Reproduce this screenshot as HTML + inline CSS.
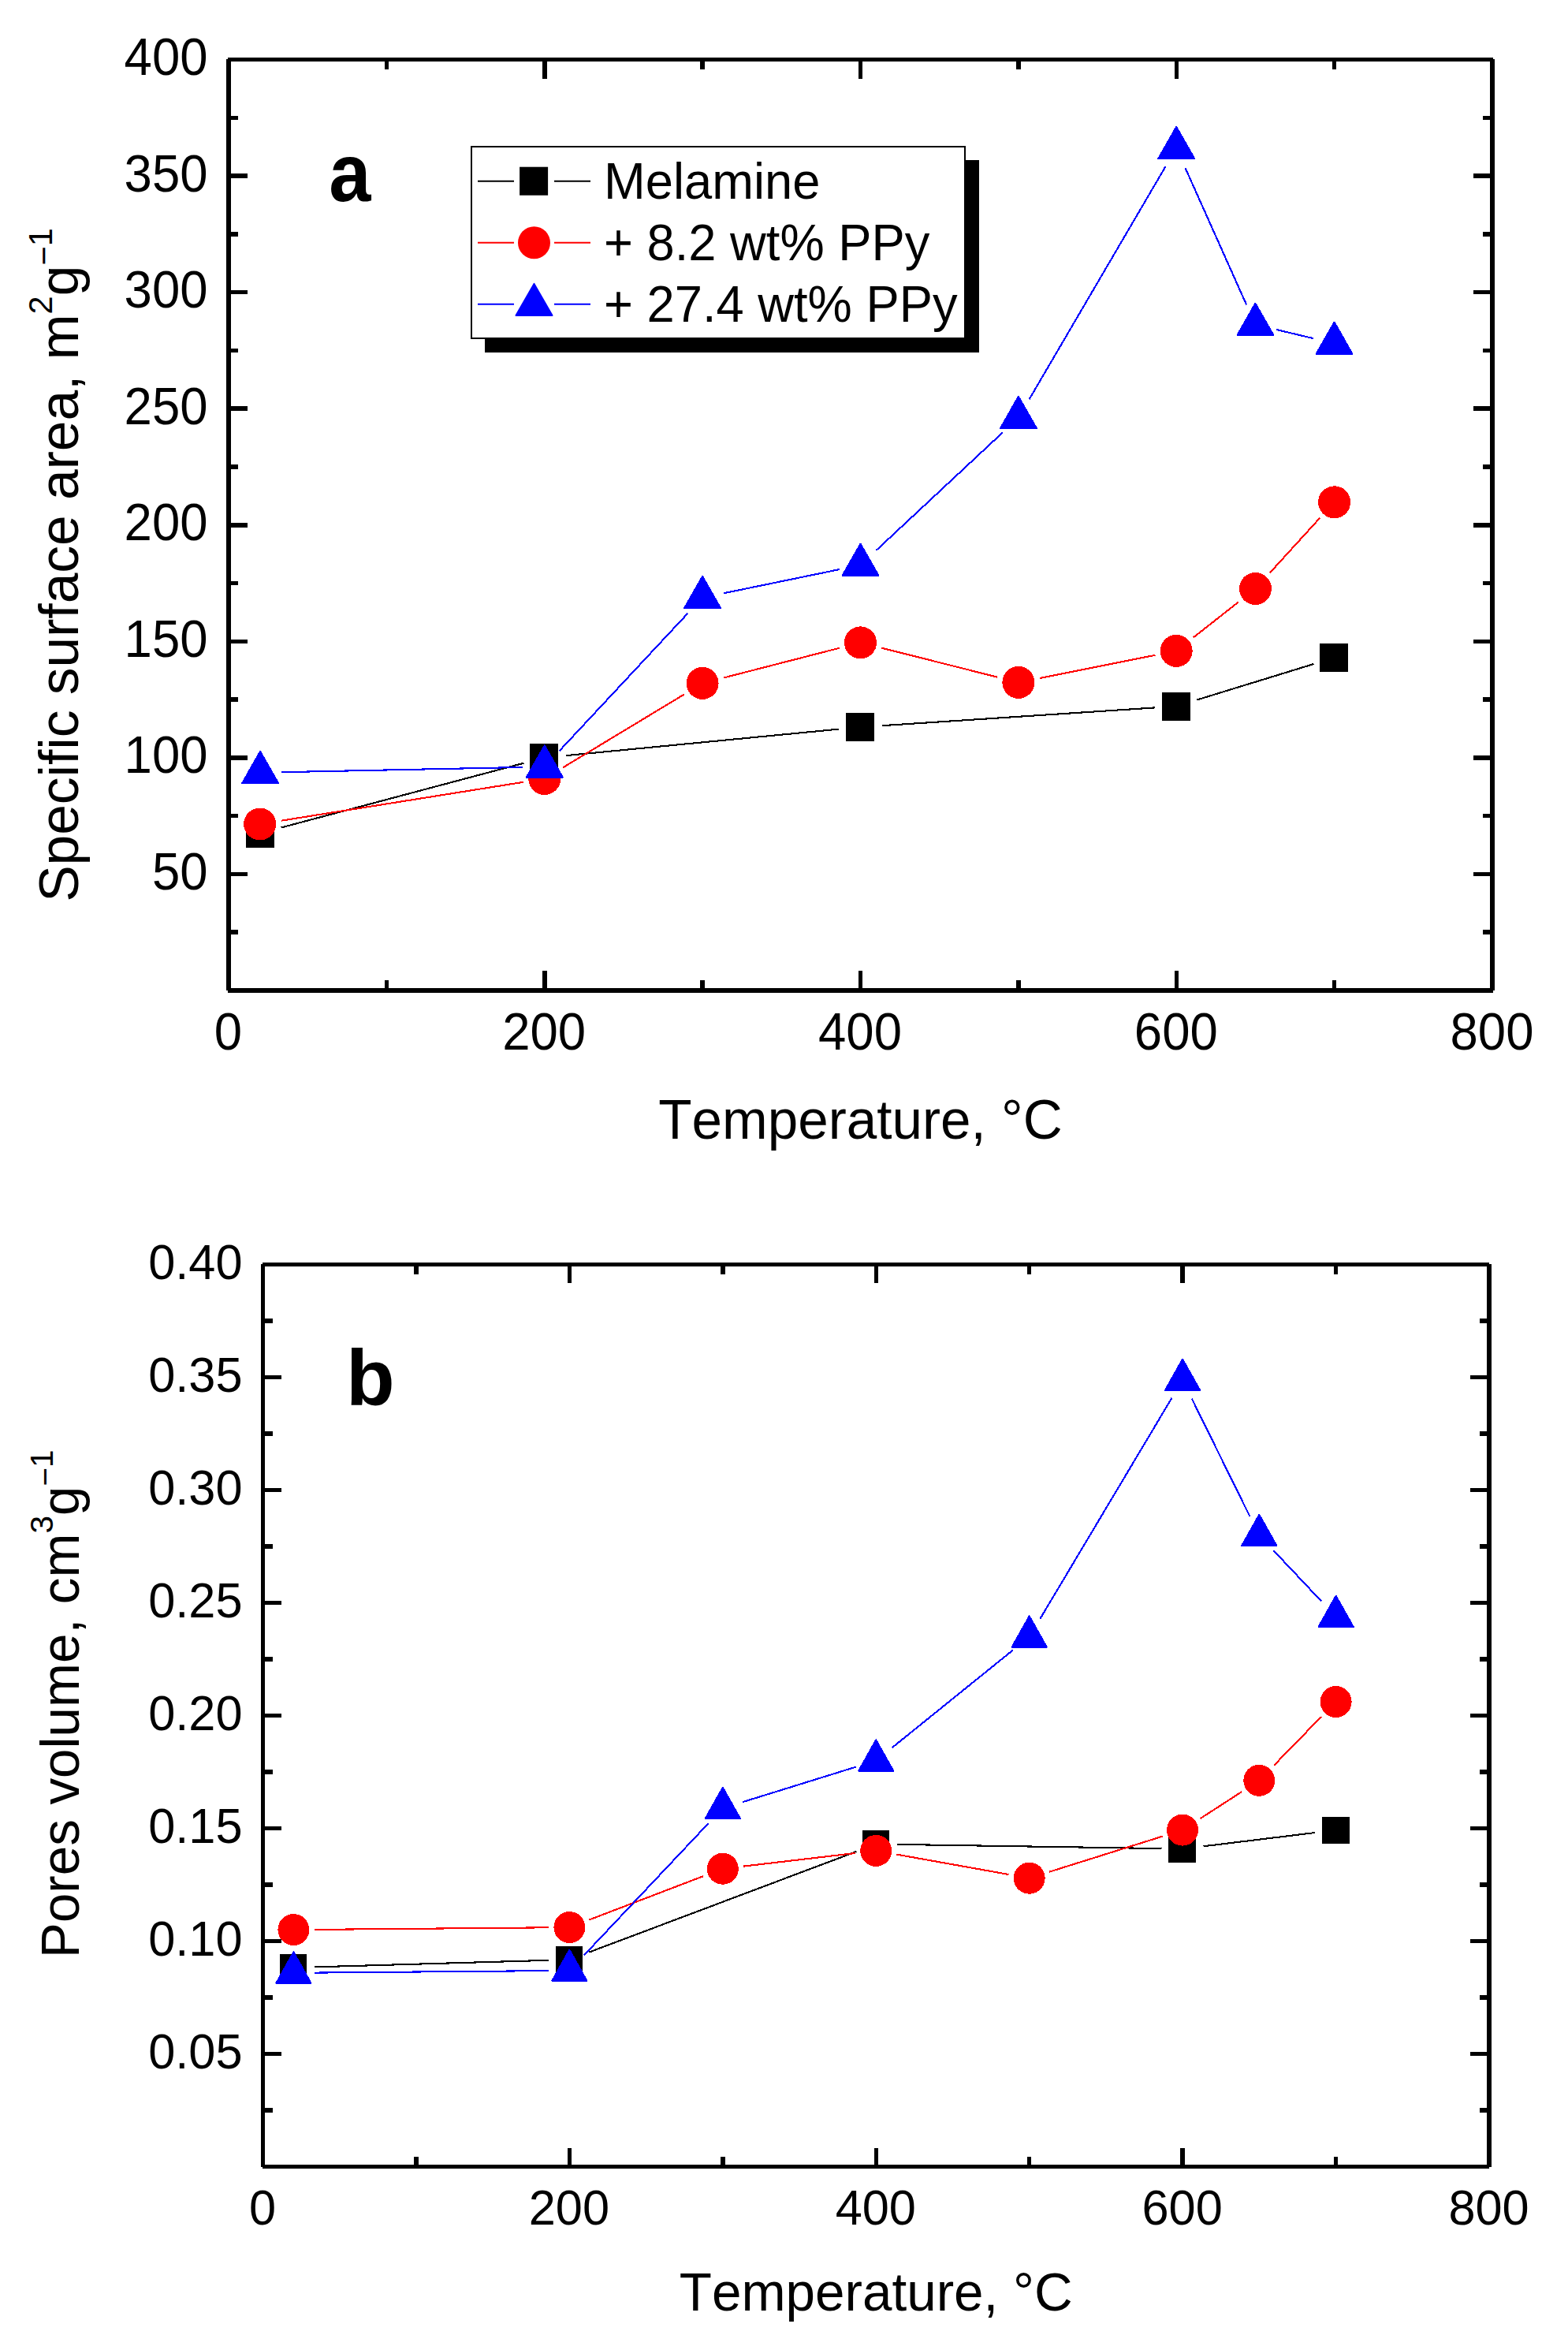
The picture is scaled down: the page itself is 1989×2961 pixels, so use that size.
<!DOCTYPE html>
<html lang="en"><head><meta charset="utf-8"><title>Specific surface area and pores volume vs temperature</title>
<style>html,body{margin:0;padding:0;background:#fff;overflow:hidden}svg{display:block}text{font-kerning:none;font-variant-ligatures:none}</style></head><body>
<svg width="1989" height="2961" viewBox="0 0 1989 2961">
<rect width="1989" height="2961" fill="#fff"/>
<g shape-rendering="crispEdges">
<rect x="287" y="75" width="6" height="1181" fill="#000"/>
<rect x="1890" y="75" width="6" height="1181" fill="#000"/>
<rect x="289" y="73" width="1605" height="5" fill="#000"/>
<rect x="289" y="1253" width="1605" height="6" fill="#000"/>
<rect x="487.625" y="1243" width="5.5" height="10" fill="#000"/>
<rect x="487.625" y="78" width="5.5" height="10" fill="#000"/>
<rect x="688" y="1231" width="5.5" height="22" fill="#000"/>
<rect x="688" y="78" width="5.5" height="22" fill="#000"/>
<rect x="888.375" y="1243" width="5.5" height="10" fill="#000"/>
<rect x="888.375" y="78" width="5.5" height="10" fill="#000"/>
<rect x="1088.75" y="1231" width="5.5" height="22" fill="#000"/>
<rect x="1088.75" y="78" width="5.5" height="22" fill="#000"/>
<rect x="1289.12" y="1243" width="5.5" height="10" fill="#000"/>
<rect x="1289.12" y="78" width="5.5" height="10" fill="#000"/>
<rect x="1489.5" y="1231" width="5.5" height="22" fill="#000"/>
<rect x="1489.5" y="78" width="5.5" height="22" fill="#000"/>
<rect x="1689.88" y="1243" width="5.5" height="10" fill="#000"/>
<rect x="1689.88" y="78" width="5.5" height="10" fill="#000"/>
<rect x="293" y="1179.47" width="9" height="5.5" fill="#000"/>
<rect x="1881" y="1179.47" width="9" height="5.5" fill="#000"/>
<rect x="293" y="1105.69" width="21" height="5.5" fill="#000"/>
<rect x="1869" y="1105.69" width="21" height="5.5" fill="#000"/>
<rect x="293" y="1031.91" width="9" height="5.5" fill="#000"/>
<rect x="1881" y="1031.91" width="9" height="5.5" fill="#000"/>
<rect x="293" y="958.125" width="21" height="5.5" fill="#000"/>
<rect x="1869" y="958.125" width="21" height="5.5" fill="#000"/>
<rect x="293" y="884.344" width="9" height="5.5" fill="#000"/>
<rect x="1881" y="884.344" width="9" height="5.5" fill="#000"/>
<rect x="293" y="810.562" width="21" height="5.5" fill="#000"/>
<rect x="1869" y="810.562" width="21" height="5.5" fill="#000"/>
<rect x="293" y="736.781" width="9" height="5.5" fill="#000"/>
<rect x="1881" y="736.781" width="9" height="5.5" fill="#000"/>
<rect x="293" y="663" width="21" height="5.5" fill="#000"/>
<rect x="1869" y="663" width="21" height="5.5" fill="#000"/>
<rect x="293" y="589.219" width="9" height="5.5" fill="#000"/>
<rect x="1881" y="589.219" width="9" height="5.5" fill="#000"/>
<rect x="293" y="515.438" width="21" height="5.5" fill="#000"/>
<rect x="1869" y="515.438" width="21" height="5.5" fill="#000"/>
<rect x="293" y="441.656" width="9" height="5.5" fill="#000"/>
<rect x="1881" y="441.656" width="9" height="5.5" fill="#000"/>
<rect x="293" y="367.875" width="21" height="5.5" fill="#000"/>
<rect x="1869" y="367.875" width="21" height="5.5" fill="#000"/>
<rect x="293" y="294.094" width="9" height="5.5" fill="#000"/>
<rect x="1881" y="294.094" width="9" height="5.5" fill="#000"/>
<rect x="293" y="220.312" width="21" height="5.5" fill="#000"/>
<rect x="1869" y="220.312" width="21" height="5.5" fill="#000"/>
<rect x="293" y="146.531" width="9" height="5.5" fill="#000"/>
<rect x="1881" y="146.531" width="9" height="5.5" fill="#000"/>
</g>
<text transform="translate(289.5,1330.5) scale(1,1.04)" font-family='"Liberation Sans", Arial, Helvetica, sans-serif' font-size="63.5" text-anchor="middle" fill="#000">0</text>
<text transform="translate(690.2,1330.5) scale(1,1.04)" font-family='"Liberation Sans", Arial, Helvetica, sans-serif' font-size="63.5" text-anchor="middle" fill="#000">200</text>
<text transform="translate(1091,1330.5) scale(1,1.04)" font-family='"Liberation Sans", Arial, Helvetica, sans-serif' font-size="63.5" text-anchor="middle" fill="#000">400</text>
<text transform="translate(1491.8,1330.5) scale(1,1.04)" font-family='"Liberation Sans", Arial, Helvetica, sans-serif' font-size="63.5" text-anchor="middle" fill="#000">600</text>
<text transform="translate(1892.5,1330.5) scale(1,1.04)" font-family='"Liberation Sans", Arial, Helvetica, sans-serif' font-size="63.5" text-anchor="middle" fill="#000">800</text>
<text transform="translate(263.5,1127.8) scale(1,1.04)" font-family='"Liberation Sans", Arial, Helvetica, sans-serif' font-size="63.5" text-anchor="end" fill="#000">50</text>
<text transform="translate(263.5,980.3) scale(1,1.04)" font-family='"Liberation Sans", Arial, Helvetica, sans-serif' font-size="63.5" text-anchor="end" fill="#000">100</text>
<text transform="translate(263.5,832.7) scale(1,1.04)" font-family='"Liberation Sans", Arial, Helvetica, sans-serif' font-size="63.5" text-anchor="end" fill="#000">150</text>
<text transform="translate(263.5,685.1) scale(1,1.04)" font-family='"Liberation Sans", Arial, Helvetica, sans-serif' font-size="63.5" text-anchor="end" fill="#000">200</text>
<text transform="translate(263.5,537.6) scale(1,1.04)" font-family='"Liberation Sans", Arial, Helvetica, sans-serif' font-size="63.5" text-anchor="end" fill="#000">250</text>
<text transform="translate(263.5,390) scale(1,1.04)" font-family='"Liberation Sans", Arial, Helvetica, sans-serif' font-size="63.5" text-anchor="end" fill="#000">300</text>
<text transform="translate(263.5,242.5) scale(1,1.04)" font-family='"Liberation Sans", Arial, Helvetica, sans-serif' font-size="63.5" text-anchor="end" fill="#000">350</text>
<text transform="translate(263.5,94.9) scale(1,1.04)" font-family='"Liberation Sans", Arial, Helvetica, sans-serif' font-size="63.5" text-anchor="end" fill="#000">400</text>
<g stroke="#000" stroke-width="2.1" fill="none" shape-rendering="crispEdges">
<line x1="356.6" y1="1049.5" x2="664.3" y2="967.7"/>
<line x1="718.0" y1="958.1" x2="1064.2" y2="924.6"/>
<line x1="1118.8" y1="920.2" x2="1464.9" y2="897.4"/>
<line x1="1518.4" y1="887.5" x2="1666.4" y2="842.0"/>
</g>
<g fill="#000" shape-rendering="crispEdges">
<rect x="311.7" y="1038.5" width="36.0" height="36.0"/>
<rect x="672.4" y="942.7" width="36.0" height="36.0"/>
<rect x="1073.1" y="904.0" width="36.0" height="36.0"/>
<rect x="1473.8" y="877.6" width="36.0" height="36.0"/>
<rect x="1674.2" y="815.9" width="36.0" height="36.0"/>
</g>
<g stroke="#f00" stroke-width="2.1" fill="none" shape-rendering="crispEdges">
<line x1="356.7" y1="1040.7" x2="663.7" y2="991.8"/>
<line x1="714.2" y1="973.3" x2="867.7" y2="880.6"/>
<line x1="917.6" y1="859.6" x2="1065.0" y2="821.7"/>
<line x1="1118.1" y1="821.6" x2="1265.3" y2="858.7"/>
<line x1="1318.8" y1="860.0" x2="1465.4" y2="830.8"/>
<line x1="1513.8" y1="808.4" x2="1570.9" y2="763.5"/>
<line x1="1610.9" y1="726.3" x2="1674.1" y2="657.0"/>
</g>
<g fill="#f00" shape-rendering="crispEdges">
<circle cx="329.6" cy="1045.0" r="20.5"/>
<circle cx="690.8" cy="987.5" r="20.5"/>
<circle cx="891.1" cy="866.4" r="20.5"/>
<circle cx="1091.5" cy="814.9" r="20.5"/>
<circle cx="1291.9" cy="865.4" r="20.5"/>
<circle cx="1492.2" cy="825.4" r="20.5"/>
<circle cx="1592.4" cy="746.5" r="20.5"/>
<circle cx="1692.6" cy="636.8" r="20.5"/>
</g>
<g stroke="#00f" stroke-width="2.1" fill="none" shape-rendering="crispEdges">
<line x1="357.5" y1="979.2" x2="663.4" y2="972.9"/>
<line x1="709.5" y1="952.3" x2="872.4" y2="777.8"/>
<line x1="917.9" y1="752.3" x2="1064.7" y2="722.1"/>
<line x1="1111.5" y1="697.9" x2="1271.9" y2="548.4"/>
<line x1="1305.7" y1="506.1" x2="1478.4" y2="211.3"/>
<line x1="1503.4" y1="212.7" x2="1581.2" y2="386.6"/>
<line x1="1619.1" y1="418.0" x2="1665.9" y2="429.1"/>
</g>
<g fill="#00f" shape-rendering="crispEdges">
<polygon points="307.2,993.1 353.1,993.1 330.1,952.9" stroke="#00f" stroke-width="2" stroke-linejoin="round"/>
<polygon points="667.8,985.6 713.7,985.6 690.8,945.4" stroke="#00f" stroke-width="2" stroke-linejoin="round"/>
<polygon points="868.1,771.1 914.1,771.1 891.1,730.9" stroke="#00f" stroke-width="2" stroke-linejoin="round"/>
<polygon points="1068.5,729.9 1114.5,729.9 1091.5,689.7" stroke="#00f" stroke-width="2" stroke-linejoin="round"/>
<polygon points="1269.0,543.0 1314.9,543.0 1291.9,502.8" stroke="#00f" stroke-width="2" stroke-linejoin="round"/>
<polygon points="1469.3,201.0 1515.2,201.0 1492.2,160.8" stroke="#00f" stroke-width="2" stroke-linejoin="round"/>
<polygon points="1569.5,424.9 1615.4,424.9 1592.4,384.7" stroke="#00f" stroke-width="2" stroke-linejoin="round"/>
<polygon points="1669.6,448.8 1715.5,448.8 1692.6,408.6" stroke="#00f" stroke-width="2" stroke-linejoin="round"/>
</g>
<g shape-rendering="crispEdges">
<rect x="615" y="203" width="627" height="244" fill="#000"/>
<rect x="597" y="185" width="628" height="245" fill="#000"/>
<rect x="599" y="187" width="624" height="241" fill="#fff"/>
</g>
<g stroke="#000" stroke-width="1.9"><line x1="606" y1="229.7" x2="652" y2="229.7"/><line x1="703" y1="229.7" x2="749" y2="229.7"/></g>
<g fill="#000">
<rect x="659.1" y="211.7" width="36.0" height="36.0"/>
</g>
<text transform="translate(766,252) scale(1,1.015)" font-family='"Liberation Sans", Arial, Helvetica, sans-serif' font-size="63.3" fill="#000">Melamine</text>
<g stroke="#f00" stroke-width="1.9"><line x1="606" y1="307.8" x2="652" y2="307.8"/><line x1="703" y1="307.8" x2="749" y2="307.8"/></g>
<g fill="#f00">
<circle cx="677.5" cy="307.8" r="20.5"/>
</g>
<text transform="translate(766,330) scale(1,1.015)" font-family='"Liberation Sans", Arial, Helvetica, sans-serif' font-size="63.3" fill="#000">+ 8.2 wt% PPy</text>
<g stroke="#00f" stroke-width="1.9"><line x1="606" y1="385.8" x2="652" y2="385.8"/><line x1="703" y1="385.8" x2="749" y2="385.8"/></g>
<g fill="#00f">
<polygon points="654.5,400.1 700.5,400.1 677.5,359.9" stroke="#00f" stroke-width="2" stroke-linejoin="round"/>
</g>
<text transform="translate(766,408) scale(1,1.015)" font-family='"Liberation Sans", Arial, Helvetica, sans-serif' font-size="63.3" fill="#000">+ 27.4 wt% PPy</text>
<text transform="translate(417.3,254.8) scale(0.915,1)" font-family='"Liberation Sans", Arial, Helvetica, sans-serif' font-size="104.5" font-weight="bold" fill="#000">a</text>
<text transform="translate(1091.5,1443.8) scale(1,1.015)" font-family='"Liberation Sans", Arial, Helvetica, sans-serif' font-size="69.25" text-anchor="middle" fill="#000">Temperature, °C</text>
<text transform="translate(98.8,1143.8) rotate(-90) scale(1,1.015)" font-family='"Liberation Sans", Arial, Helvetica, sans-serif' font-size="69.5" fill="#000">Specific surface area, m<tspan font-size="41.6" dy="-32.1">2</tspan><tspan dy="32.1">g</tspan><tspan font-size="41.6" dy="-27.9">−</tspan><tspan font-size="41.6" dy="-4.2">1</tspan></text>
<g shape-rendering="crispEdges">
<rect x="331" y="1603" width="5" height="1145" fill="#000"/>
<rect x="1886" y="1603" width="6" height="1145" fill="#000"/>
<rect x="333" y="1601" width="1556" height="5" fill="#000"/>
<rect x="333" y="2745" width="1556" height="5" fill="#000"/>
<rect x="525.188" y="2735" width="5.5" height="10" fill="#000"/>
<rect x="525.188" y="1606" width="5.5" height="10" fill="#000"/>
<rect x="719.625" y="2724" width="5.5" height="21" fill="#000"/>
<rect x="719.625" y="1606" width="5.5" height="21" fill="#000"/>
<rect x="914.062" y="2735" width="5.5" height="10" fill="#000"/>
<rect x="914.062" y="1606" width="5.5" height="10" fill="#000"/>
<rect x="1108.5" y="2724" width="5.5" height="21" fill="#000"/>
<rect x="1108.5" y="1606" width="5.5" height="21" fill="#000"/>
<rect x="1302.94" y="2735" width="5.5" height="10" fill="#000"/>
<rect x="1302.94" y="1606" width="5.5" height="10" fill="#000"/>
<rect x="1497.38" y="2724" width="5.5" height="21" fill="#000"/>
<rect x="1497.38" y="1606" width="5.5" height="21" fill="#000"/>
<rect x="1691.81" y="2735" width="5.5" height="10" fill="#000"/>
<rect x="1691.81" y="1606" width="5.5" height="10" fill="#000"/>
<rect x="336" y="2673.25" width="10" height="5.5" fill="#000"/>
<rect x="1877" y="2673.25" width="9" height="5.5" fill="#000"/>
<rect x="336" y="2601.75" width="21" height="5.5" fill="#000"/>
<rect x="1865" y="2601.75" width="21" height="5.5" fill="#000"/>
<rect x="336" y="2530.25" width="10" height="5.5" fill="#000"/>
<rect x="1877" y="2530.25" width="9" height="5.5" fill="#000"/>
<rect x="336" y="2458.75" width="21" height="5.5" fill="#000"/>
<rect x="1865" y="2458.75" width="21" height="5.5" fill="#000"/>
<rect x="336" y="2387.25" width="10" height="5.5" fill="#000"/>
<rect x="1877" y="2387.25" width="9" height="5.5" fill="#000"/>
<rect x="336" y="2315.75" width="21" height="5.5" fill="#000"/>
<rect x="1865" y="2315.75" width="21" height="5.5" fill="#000"/>
<rect x="336" y="2244.25" width="10" height="5.5" fill="#000"/>
<rect x="1877" y="2244.25" width="9" height="5.5" fill="#000"/>
<rect x="336" y="2172.75" width="21" height="5.5" fill="#000"/>
<rect x="1865" y="2172.75" width="21" height="5.5" fill="#000"/>
<rect x="336" y="2101.25" width="10" height="5.5" fill="#000"/>
<rect x="1877" y="2101.25" width="9" height="5.5" fill="#000"/>
<rect x="336" y="2029.75" width="21" height="5.5" fill="#000"/>
<rect x="1865" y="2029.75" width="21" height="5.5" fill="#000"/>
<rect x="336" y="1958.25" width="10" height="5.5" fill="#000"/>
<rect x="1877" y="1958.25" width="9" height="5.5" fill="#000"/>
<rect x="336" y="1886.75" width="21" height="5.5" fill="#000"/>
<rect x="1865" y="1886.75" width="21" height="5.5" fill="#000"/>
<rect x="336" y="1815.25" width="10" height="5.5" fill="#000"/>
<rect x="1877" y="1815.25" width="9" height="5.5" fill="#000"/>
<rect x="336" y="1743.75" width="21" height="5.5" fill="#000"/>
<rect x="1865" y="1743.75" width="21" height="5.5" fill="#000"/>
<rect x="336" y="1672.25" width="10" height="5.5" fill="#000"/>
<rect x="1877" y="1672.25" width="9" height="5.5" fill="#000"/>
</g>
<text transform="translate(333,2820.5) scale(1,1.04)" font-family='"Liberation Sans", Arial, Helvetica, sans-serif' font-size="61.3" text-anchor="middle" fill="#000">0</text>
<text transform="translate(721.9,2820.5) scale(1,1.04)" font-family='"Liberation Sans", Arial, Helvetica, sans-serif' font-size="61.3" text-anchor="middle" fill="#000">200</text>
<text transform="translate(1110.8,2820.5) scale(1,1.04)" font-family='"Liberation Sans", Arial, Helvetica, sans-serif' font-size="61.3" text-anchor="middle" fill="#000">400</text>
<text transform="translate(1499.6,2820.5) scale(1,1.04)" font-family='"Liberation Sans", Arial, Helvetica, sans-serif' font-size="61.3" text-anchor="middle" fill="#000">600</text>
<text transform="translate(1888.5,2820.5) scale(1,1.04)" font-family='"Liberation Sans", Arial, Helvetica, sans-serif' font-size="61.3" text-anchor="middle" fill="#000">800</text>
<text transform="translate(307.5,2622.8) scale(1,1.04)" font-family='"Liberation Sans", Arial, Helvetica, sans-serif' font-size="61.3" text-anchor="end" fill="#000">0.05</text>
<text transform="translate(307.5,2479.8) scale(1,1.04)" font-family='"Liberation Sans", Arial, Helvetica, sans-serif' font-size="61.3" text-anchor="end" fill="#000">0.10</text>
<text transform="translate(307.5,2336.8) scale(1,1.04)" font-family='"Liberation Sans", Arial, Helvetica, sans-serif' font-size="61.3" text-anchor="end" fill="#000">0.15</text>
<text transform="translate(307.5,2193.8) scale(1,1.04)" font-family='"Liberation Sans", Arial, Helvetica, sans-serif' font-size="61.3" text-anchor="end" fill="#000">0.20</text>
<text transform="translate(307.5,2050.8) scale(1,1.04)" font-family='"Liberation Sans", Arial, Helvetica, sans-serif' font-size="61.3" text-anchor="end" fill="#000">0.25</text>
<text transform="translate(307.5,1907.8) scale(1,1.04)" font-family='"Liberation Sans", Arial, Helvetica, sans-serif' font-size="61.3" text-anchor="end" fill="#000">0.30</text>
<text transform="translate(307.5,1764.8) scale(1,1.04)" font-family='"Liberation Sans", Arial, Helvetica, sans-serif' font-size="61.3" text-anchor="end" fill="#000">0.35</text>
<text transform="translate(307.5,1621.8) scale(1,1.04)" font-family='"Liberation Sans", Arial, Helvetica, sans-serif' font-size="61.3" text-anchor="end" fill="#000">0.40</text>
<g stroke="#000" stroke-width="2.1" fill="none" shape-rendering="crispEdges">
<line x1="399.0" y1="2494.4" x2="695.8" y2="2485.8"/>
<line x1="747.3" y1="2475.6" x2="1086.4" y2="2347.9"/>
<line x1="1137.8" y1="2338.9" x2="1473.5" y2="2344.1"/>
<line x1="1526.5" y1="2341.3" x2="1668.2" y2="2324.0"/>
</g>
<g fill="#000" shape-rendering="crispEdges">
<rect x="354.7" y="2477.9" width="34.6" height="34.6"/>
<rect x="704.7" y="2467.7" width="34.6" height="34.6"/>
<rect x="1093.5" y="2321.2" width="34.6" height="34.6"/>
<rect x="1482.4" y="2327.2" width="34.6" height="34.6"/>
<rect x="1676.9" y="2303.5" width="34.6" height="34.6"/>
</g>
<g stroke="#f00" stroke-width="2.1" fill="none" shape-rendering="crispEdges">
<line x1="399.0" y1="2446.9" x2="695.8" y2="2444.3"/>
<line x1="747.2" y1="2434.6" x2="892.0" y2="2379.2"/>
<line x1="943.2" y1="2366.6" x2="1084.8" y2="2350.0"/>
<line x1="1137.4" y1="2351.6" x2="1279.5" y2="2377.0"/>
<line x1="1331.1" y1="2373.7" x2="1474.7" y2="2328.6"/>
<line x1="1522.4" y1="2306.2" x2="1575.0" y2="2272.2"/>
<line x1="1615.9" y1="2238.8" x2="1676.0" y2="2177.0"/>
</g>
<g fill="#f00" shape-rendering="crispEdges">
<circle cx="372.4" cy="2447.1" r="20.0"/>
<circle cx="722.4" cy="2444.1" r="20.0"/>
<circle cx="916.8" cy="2369.7" r="20.0"/>
<circle cx="1111.2" cy="2346.9" r="20.0"/>
<circle cx="1305.7" cy="2381.7" r="20.0"/>
<circle cx="1500.1" cy="2320.6" r="20.0"/>
<circle cx="1597.3" cy="2257.8" r="20.0"/>
<circle cx="1694.6" cy="2158.0" r="20.0"/>
</g>
<g stroke="#00f" stroke-width="2.1" fill="none" shape-rendering="crispEdges">
<line x1="399.0" y1="2501.6" x2="695.8" y2="2499.1"/>
<line x1="740.7" y1="2479.6" x2="898.5" y2="2312.3"/>
<line x1="942.2" y1="2285.1" x2="1085.8" y2="2240.6"/>
<line x1="1131.9" y1="2216.0" x2="1285.0" y2="2092.4"/>
<line x1="1319.3" y1="2052.9" x2="1486.5" y2="1772.7"/>
<line x1="1511.9" y1="1773.8" x2="1585.5" y2="1923.1"/>
<line x1="1615.6" y1="1966.3" x2="1676.3" y2="2030.7"/>
</g>
<g fill="#00f" shape-rendering="crispEdges">
<polygon points="350.3,2514.8 394.5,2514.8 372.4,2475.5" stroke="#00f" stroke-width="2" stroke-linejoin="round"/>
<polygon points="700.3,2511.9 744.5,2511.9 722.4,2472.6" stroke="#00f" stroke-width="2" stroke-linejoin="round"/>
<polygon points="894.7,2306.0 938.9,2306.0 916.8,2266.7" stroke="#00f" stroke-width="2" stroke-linejoin="round"/>
<polygon points="1089.2,2245.7 1133.3,2245.7 1111.2,2206.4" stroke="#00f" stroke-width="2" stroke-linejoin="round"/>
<polygon points="1283.6,2088.7 1327.8,2088.7 1305.7,2049.4" stroke="#00f" stroke-width="2" stroke-linejoin="round"/>
<polygon points="1478.0,1762.9 1522.2,1762.9 1500.1,1723.6" stroke="#00f" stroke-width="2" stroke-linejoin="round"/>
<polygon points="1575.2,1960.0 1619.4,1960.0 1597.3,1920.7" stroke="#00f" stroke-width="2" stroke-linejoin="round"/>
<polygon points="1672.5,2063.0 1716.7,2063.0 1694.6,2023.7" stroke="#00f" stroke-width="2" stroke-linejoin="round"/>
</g>
<text transform="translate(439,1781.8) scale(1,1)" font-family='"Liberation Sans", Arial, Helvetica, sans-serif' font-size="101" font-weight="bold" fill="#000">b</text>
<text transform="translate(1111.2,2930.3) scale(1,1.015)" font-family='"Liberation Sans", Arial, Helvetica, sans-serif' font-size="67.4" text-anchor="middle" fill="#000">Temperature, °C</text>
<text transform="translate(100.3,2483.0) rotate(-90) scale(1,1.015)" font-family='"Liberation Sans", Arial, Helvetica, sans-serif' font-size="67.3" fill="#000">Pores volume, cm<tspan font-size="40.4" dy="-33.1">3</tspan><tspan dy="33.1">g</tspan><tspan font-size="40.4" dy="-28.9">−</tspan><tspan font-size="40.4" dy="-4.2">1</tspan></text>
</svg></body></html>
